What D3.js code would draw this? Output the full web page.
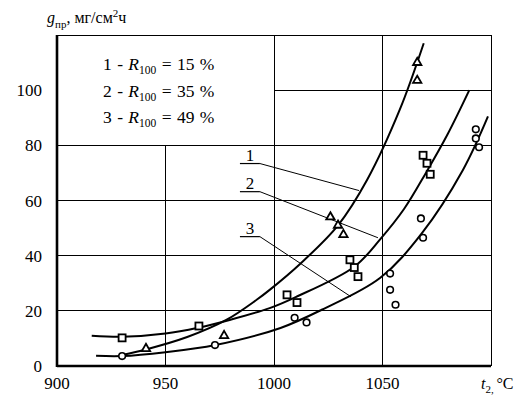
<!DOCTYPE html>
<html><head><meta charset="utf-8">
<script src="https://cdn.jsdelivr.net/npm/d3@7"></script>
<style>body{margin:0;background:#fff}svg{display:block}text{font-family:"Liberation Serif","Times New Roman",serif;fill:#000}</style>
</head><body><svg id="c" width="529" height="405"></svg>
<script>
// ---- data ----
const xTicks = [900, 950, 1000, 1050];
const yTicks = [0, 20, 40, 60, 80, 100];
const gridX = [950, 1000, 1050];
const gridY = [20, 40, 60, 80, 100];
const legendLines = ["15", "35", "49"];
// measured points
const tri = [[941,6.3],[977,11],[1026,54],[1029.5,51],[1032,47.6],[1066,110],[1066,103.5]];
const sq  = [[930,10.2],[965.4,14.5],[1006,25.8],[1010.6,23],[1035,38.5],[1037,35.7],[1038.7,32.4],[1068.7,76.4],[1070.5,73.5],[1072,69.5]];
const circ= [[930,3.6],[972.8,7.6],[1009.5,17.5],[1015,15.8],[1053.5,33.5],[1053.5,27.6],[1056,22.2],[1067.7,53.5],[1068.7,46.5],[1093,85.8],[1093,82.5],[1094.5,79.3]];
// fitted curves
const curve1 = [[930,4],[941,6],[960,10.5],[978,16.7],[992,24],[998,27.6],[1012,37],[1029.5,51],[1043,67.6],[1058,93],[1069,117]];
const curve2 = [[916,11],[930,10.6],[950,11.8],[965,13.9],[980,16.8],[998,21],[1010,25],[1037,36],[1049,46],[1060,57],[1070,70],[1080,84],[1090,100]];
const curve3 = [[918,3.7],[930,3.6],[950,5],[973,7.6],[1003,13.8],[1022,20.4],[1049,32],[1068,48],[1087,71],[1098.6,90.5]];
const curveLabels = [
  {n:"1", t0:984.3, t1:993.5, g:73.4, te:1039.2, ge:63.6},
  {n:"2", t0:984.3, t1:993.5, g:63.2, te:1047.9, ge:46.5},
  {n:"3", t0:984.3, t1:993.5, g:46.9, te:1035.5, ge:25.1}
];

const svg = d3.select("#c");
const x = d3.scaleLinear().domain([900,1100]).range([57,491]);
const y = d3.scaleLinear().domain([0,120]).range([366,35]);

// grid (legend box region top-left: t<1000 and g>80 has no grid)
gridX.forEach(t=>{
  svg.append("line").attr("x1",x(t)).attr("x2",x(t))
    .attr("y1",y(0)).attr("y2", t<1000 ? y(80) : y(120))
    .attr("stroke","#000").attr("stroke-width",1).attr("shape-rendering","crispEdges");
});
gridY.forEach(g=>{
  svg.append("line").attr("y1",y(g)).attr("y2",y(g))
    .attr("x1", g>80 ? x(1000) : x(900)).attr("x2",x(1100))
    .attr("stroke","#000").attr("stroke-width",1).attr("shape-rendering","crispEdges");
});
// frame
svg.append("line").attr("x1",x(900)).attr("x2",x(1100)).attr("y1",y(120)).attr("y2",y(120)).attr("stroke","#000").attr("stroke-width",1).attr("shape-rendering","crispEdges");
svg.append("line").attr("x1",x(1100)).attr("x2",x(1100)).attr("y1",y(0)).attr("y2",y(120)).attr("stroke","#000").attr("stroke-width",1).attr("shape-rendering","crispEdges");
svg.append("line").attr("x1",x(900)).attr("x2",x(900)).attr("y1",y(0)+1).attr("y2",y(120)).attr("stroke","#000").attr("stroke-width",2.6);
svg.append("line").attr("x1",x(900)).attr("x2",x(1100)).attr("y1",y(0)).attr("y2",y(0)).attr("stroke","#000").attr("stroke-width",2.6);

// tick labels
svg.selectAll(".xt").data(xTicks).enter().append("text")
  .attr("x",d=>x(d)).attr("y",389).attr("text-anchor","middle").attr("font-size",17).text(d=>d);
svg.selectAll(".yt").data(yTicks).enter().append("text")
  .attr("x",42).attr("y",d=>y(d)+6).attr("text-anchor","end").attr("font-size",17).text(d=>d);

// axis titles
const yl = svg.append("text").attr("x",47).attr("y",23).attr("font-size",16);
yl.append("tspan").attr("font-style","italic").text("g");
yl.append("tspan").attr("font-size",11).attr("dy",5).text("пр");
yl.append("tspan").attr("font-size",16).attr("dy",-5).text(", мг/см");
yl.append("tspan").attr("font-size",11).attr("dy",-6).text("2");
yl.append("tspan").attr("font-size",16).attr("dy",6).text("ч");
const xl = svg.append("text").attr("x",481).attr("y",389).attr("font-size",16);
xl.append("tspan").attr("font-style","italic").text("t");
xl.append("tspan").attr("font-size",11).attr("dy",4).text("2");
xl.append("tspan").attr("font-size",11).text(", ");
xl.append("tspan").attr("font-size",16).attr("dy",-4).text("°C");

// legend
legendLines.forEach((v,i)=>{
  const t = svg.append("text").attr("x",103).attr("y",70+i*26.5).attr("font-size",17.5).attr("word-spacing",1);
  t.append("tspan").text((i+1)+" - ");
  t.append("tspan").attr("font-style","italic").text("R");
  t.append("tspan").attr("font-size",11.5).attr("dy",4).text("100");
  t.append("tspan").attr("dy",-4).text(" = "+v+" %");
});

// curves
const line = d3.line().x(d=>x(d[0])).y(d=>y(d[1])).curve(d3.curveCatmullRom.alpha(0.5));
[curve1,curve2,curve3].forEach(c=>{
  svg.append("path").attr("d",line(c)).attr("fill","none").attr("stroke","#000").attr("stroke-width",2);
});

// curve labels & leaders
curveLabels.forEach(l=>{
  svg.append("line").attr("x1",x(l.t0)).attr("x2",x(l.t1)).attr("y1",y(l.g)).attr("y2",y(l.g)).attr("stroke","#000").attr("stroke-width",1.2);
  svg.append("line").attr("x1",x(l.t1)).attr("x2",x(l.te)).attr("y1",y(l.g)).attr("y2",y(l.ge)).attr("stroke","#000").attr("stroke-width",1);
  svg.append("text").attr("x",(x(l.t0)+x(l.t1))/2).attr("y",y(l.g)-3).attr("text-anchor","middle").attr("font-size",17).text(l.n);
});

// markers
svg.selectAll(".tri").data(tri).enter().append("path")
  .attr("d",d3.symbol().type(d3.symbolTriangle).size(30))
  .attr("transform",d=>`translate(${x(d[0])},${y(d[1])})`)
  .attr("fill","#fff").attr("stroke","#000").attr("stroke-width",1.8);
svg.selectAll(".sq").data(sq).enter().append("rect")
  .attr("x",d=>x(d[0])-3.5).attr("y",d=>y(d[1])-3.5).attr("width",7).attr("height",7)
  .attr("fill","#fff").attr("stroke","#000").attr("stroke-width",1.8);
svg.selectAll(".ci").data(circ).enter().append("circle")
  .attr("cx",d=>x(d[0])).attr("cy",d=>y(d[1])).attr("r",3.3)
  .attr("fill","#fff").attr("stroke","#000").attr("stroke-width",1.6);
</script></body></html>
